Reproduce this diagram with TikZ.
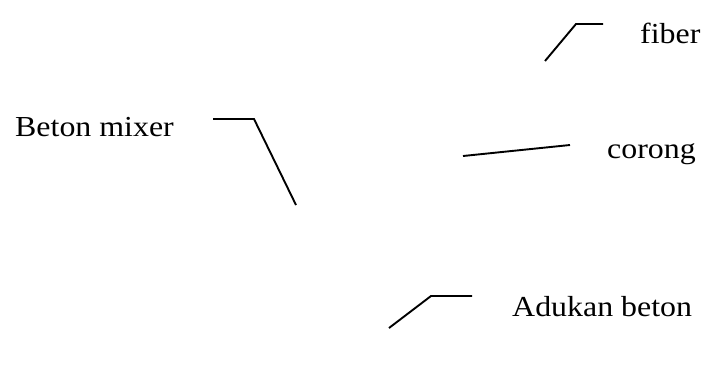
\documentclass[tikz,border=0pt]{standalone}
\usepackage{fontspec}
\setmainfont{Liberation Serif}
\begin{document}
\begin{tikzpicture}[x=1pt,y=-1pt,
  lbl/.style={inner sep=0pt,anchor=base west,font=\fontsize{29}{34}\selectfont,xscale=1.1},
  leader/.style={line width=1.9pt,line join=miter}]
\useasboundingbox (0,0) rectangle (703,384);
\node[lbl] (mixer) at (15,136) {Beton mixer};
\node[lbl] (fiber) at (640,43) {fiber};
\node[lbl] (corong) at (607,158) {corong};
\node[lbl] (adukan) at (512,316) {Adukan beton};
% leader lines
\coordinate (m1) at (213,119);
\coordinate (m2) at (254,119);
\coordinate (m3) at (296,205);
\coordinate (f1) at (603,24);
\coordinate (f2) at (576,24);
\coordinate (f3) at (545,61);
\coordinate (c1) at (570,145);
\coordinate (c2) at (463,156);
\coordinate (a1) at (472,296);
\coordinate (a2) at (431,296);
\coordinate (a3) at (389,328);
\draw[leader] (m1) -- (m2) -- (m3);
\draw[leader] (f1) -- (f2) -- (f3);
\draw[leader] (c1) -- (c2);
\draw[leader] (a1) -- (a2) -- (a3);
\end{tikzpicture}
\end{document}
